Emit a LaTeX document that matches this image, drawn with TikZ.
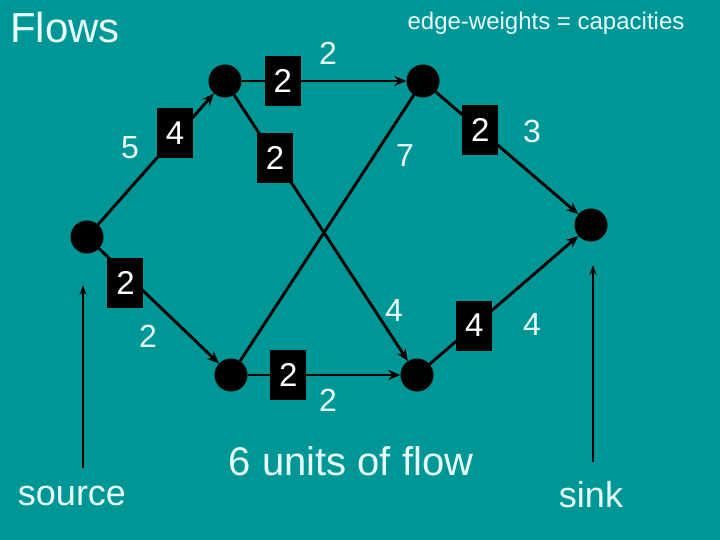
\documentclass[tikz,border=0pt]{standalone}
\usepackage{fontspec}
\setmainfont{Liberation Sans}
\usetikzlibrary{arrows.meta}

\definecolor{slide}{RGB}{0,150,150}
\definecolor{pale}{RGB}{232,255,255}

\tikzset{
	vertex/.style={circle,fill=black,minimum size=33pt,inner sep=0pt},
	flowbox/.style={fill=black,text=white,minimum width=36pt,minimum height=50pt,inner sep=0pt,font=\fontsize{33}{36}\selectfont},
	capacity/.style={text=pale,font=\fontsize{32}{36}\selectfont},
	edge/.style={line width=2.9pt,-{Stealth[length=12pt,width=10pt]}},
	feed/.style={line width=1.7pt,-{Stealth[length=10pt,width=7pt]}},
	caption/.style={text=pale,anchor=base},
}

\begin{document}
\begin{tikzpicture}[x=1pt,y=-1pt]
			% slide
			\fill[slide] (0,0) rectangle (720,540);
			\useasboundingbox (0,0) rectangle (720,540);

			% vertices
			\node[vertex] (s) at (87,237) {};
			\node[vertex] (a) at (225,81) {};
			\node[vertex] (b) at (423,81) {};
			\node[vertex] (c) at (231,375) {};
			\node[vertex] (d) at (417,375) {};
			\node[vertex] (t) at (591,225) {};

			% edges with flow
			\draw[edge,-] (c) -- (b);
			\draw[edge] (s) -- (a) node[flowbox,pos=0.665,yshift=4pt] (fsa) {4};
			\draw[edge] (a) -- (b) node[flowbox,pos=0.249] (fab) {2};
			\draw[edge] (a) -- (d) node[flowbox,pos=0.236] (fad) {2};
			\draw[edge] (b) -- (t) node[flowbox,pos=0.313] (fbt) {2};
			\draw[edge] (s) -- (c) node[flowbox,pos=0.22,yshift=-9pt] (fsc) {2};
			\draw[edge] (c) -- (d) node[flowbox,pos=0.266] (fcd) {2};
			\draw[edge] (d) -- (t) node[flowbox,pos=0.30] (fdt) {4};

			% capacities
			\node[capacity] (csa) at (130,148) {5};
			\node[capacity] (cab) at (328,53) {2};
			\node[capacity] (ccb) at (405,155) {7};
			\node[capacity] (cbt) at (532,131) {3};
			\node[capacity] (csc) at (148,336) {2};
			\node[capacity] (cad) at (394,310) {4};
			\node[capacity] (ccd) at (328,400) {2};
			\node[capacity] (cdt) at (532,324) {4};

			% captions
			\node[caption,font=\fontsize{42}{46}\selectfont] (title) at (65,43) {Flows};
			\node[caption,font=\fontsize{24}{28}\selectfont] (legend) at (546,30) {edge-weights = capacities};
			\node[caption,font=\fontsize{40}{44}\selectfont] (total) at (351,475) {6 units of flow};
			\node[caption,font=\fontsize{36}{40}\selectfont] (source) at (72,505) {source};
			\node[caption,font=\fontsize{36}{40}\selectfont] (sink) at (591,507) {sink};

			% source and sink pointers
			\coordinate (srcfoot) at (83,468);
			\coordinate (srchead) at (83,285);
			\coordinate (snkfoot) at (593,462);
			\coordinate (snkhead) at (593,265);
			\draw[feed] (srcfoot) -- (srchead);
			\draw[feed] (snkfoot) -- (snkhead);
		\end{tikzpicture}
\end{document}
